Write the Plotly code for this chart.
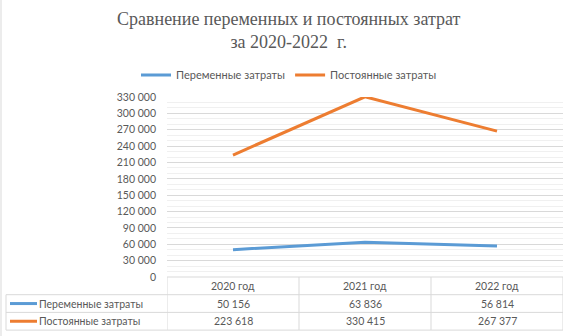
import plotly.graph_objects as go

categories = ["2020 год", "2021 год", "2022 год"]
variable_costs = [50156, 63836, 56814]
fixed_costs = [223618, 330415, 267377]
series_names = ["Переменные затраты", "Постоянные затраты"]
y_ticks = list(range(0, 330001, 30000))
title_text = "Сравнение переменных и постоянных затрат<br>за 2020-2022  г."

BLUE = "#5b9bd5"
ORANGE = "#ed7d31"
TXT = "#595959"
GRID = "#d9d9d9"
FONT = "Lato"

W, H = 576, 336
ML, MR, MT, MB = 6, 13, 0, 2
PW, PH = W - ML - MR, H - MT - MB
plot_left, plot_top, plot_bottom = 167, 97, 277
ROW = 17.7
LABEL_LEFT = 6

def px_x(x):
    return (x - ML) / PW

def px_y(y):
    return (H - MB - y) / PH

def fmt(v):
    return f"{v:,}".replace(",", " ")

fig = go.Figure()
series_values = [variable_costs, fixed_costs]
colors = [BLUE, ORANGE]
for name, vals, c in zip(series_names, series_values, colors):
    fig.add_trace(go.Scatter(x=categories, y=vals, name=name,
                             mode="lines", line=dict(color=c, width=3)))

# ---- data table under the chart (shapes + annotations) ----
line_style = dict(color=GRID, width=1)
y_rows = [plot_bottom + ROW * k for k in range(4)]
fig.add_shape(type="line", xref="x", yref="paper", x0=-0.5, x1=2.5,
              y0=px_y(y_rows[0]), y1=px_y(y_rows[0]), line=line_style)
for yr in y_rows[1:]:
    fig.add_shape(type="line", xref="paper", yref="paper",
                  x0=px_x(LABEL_LEFT), x1=1, y0=px_y(yr), y1=px_y(yr), line=line_style)
for xb in [-0.5, 0.5, 1.5, 2.5]:
    fig.add_shape(type="line", xref="x", yref="paper", x0=xb, x1=xb,
                  y0=px_y(y_rows[0]), y1=px_y(y_rows[3]), line=line_style)
fig.add_shape(type="line", xref="paper", yref="paper",
              x0=px_x(LABEL_LEFT), x1=px_x(LABEL_LEFT),
              y0=px_y(y_rows[1]), y1=px_y(y_rows[3]), line=line_style)

tfont = dict(family=FONT, size=10.5, color=TXT)
for cat in categories:
    fig.add_annotation(x=cat, xref="x", y=px_y(y_rows[0] + ROW / 2), yref="paper",
                       text=cat, showarrow=False, font=tfont,
                       xanchor="center", yanchor="middle")
for i, (name, vals, c) in enumerate(zip(series_names, series_values, colors)):
    yc = y_rows[1] + ROW * i + ROW / 2
    fig.add_shape(type="line", xref="paper", yref="paper",
                  x0=px_x(10), x1=px_x(37), y0=px_y(yc), y1=px_y(yc),
                  line=dict(color=c, width=3))
    fig.add_annotation(x=px_x(37), xref="paper", y=px_y(yc), yref="paper",
                       text=name, showarrow=False, font=tfont,
                       xanchor="left", yanchor="middle")
    for cat, v in zip(categories, vals):
        fig.add_annotation(x=cat, xref="x", y=px_y(yc), yref="paper",
                           text=fmt(v), showarrow=False, font=tfont,
                           xanchor="center", yanchor="middle")

fig.add_annotation(text=title_text, xref="paper", yref="paper",
                   x=px_x(288.5), y=px_y(7), xanchor="center", yanchor="top",
                   showarrow=False, align="center",
                   font=dict(family="Liberation Serif", size=18, color=TXT))

fig.update_layout(
    width=W, height=H,
    margin=dict(l=ML, r=MR, t=MT, b=MB, autoexpand=False),
    paper_bgcolor="white", plot_bgcolor="white",
    separators=", ",
    font=dict(family=FONT, size=10.5, color=TXT),
    legend=dict(orientation="h", x=px_x(289), xanchor="center",
                y=px_y(75), yanchor="middle",
                font=dict(family=FONT, size=11, color=TXT), itemwidth=30),
    xaxis=dict(domain=[px_x(plot_left), 1], showticklabels=False,
               range=[-0.5, 2.5],
               showgrid=False, zeroline=False, showline=False),
    yaxis=dict(domain=[px_y(plot_bottom), px_y(plot_top)],
               range=[0, 330000], tickvals=y_ticks, tickformat=",d",
               showgrid=True, gridcolor=GRID, gridwidth=1, zeroline=False,
               ticklabelstandoff=10,
               minor=dict(dtick=10000, showgrid=True, gridcolor="#f0f0f0", gridwidth=1)),
)

fig.add_shape(type="line", xref="paper", yref="paper",
              x0=px_x(1), x1=px_x(1), y0=px_y(H), y1=px_y(0),
              line=dict(color=GRID, width=1))

fig.write_html("out.html", config={"displayModeBar": False},
               post_script="document.body.style.margin='0';")
